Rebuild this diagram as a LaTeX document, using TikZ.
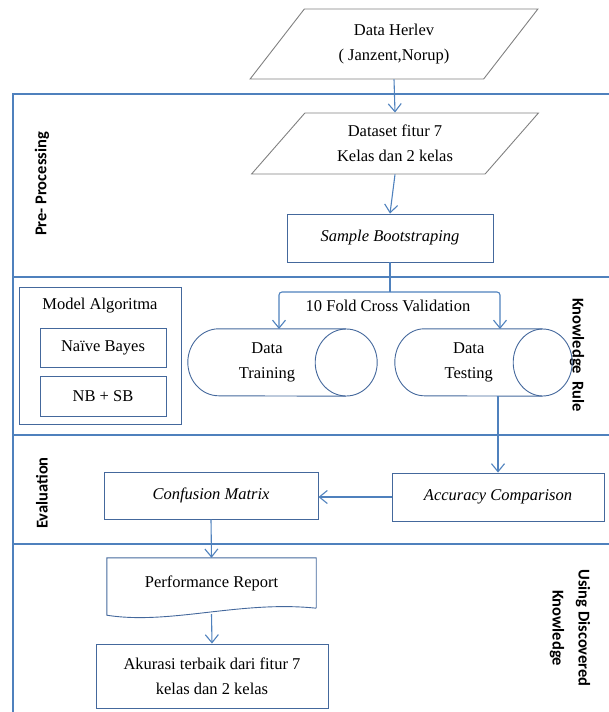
\documentclass[tikz,border=0pt]{standalone}
\usepackage{fontspec}
\setmainfont{Liberation Serif}
\newfontfamily\lanefont{Carlito}
\definecolor{LineBlue}{RGB}{79, 129, 189}
\definecolor{BoxBlue}{RGB}{68, 104, 156}
\definecolor{InkGray}{RGB}{128, 128, 128}
\usetikzlibrary{shapes.geometric, arrows.meta, positioning, calc}

\begin{document}
\begin{tikzpicture}[
            x=1pt, y=-1pt,
            box/.style={draw=BoxBlue, line width=0.9pt, fill=white, align=center, font=\fontsize{16.5}{25}\selectfont, inner sep=0pt},
            io/.style={trapezium, trapezium stretches=true, draw=InkGray, line width=0.9pt, align=center, font=\fontsize{16.5}{25}\selectfont, inner sep=0pt},
            drum/.style={align=center, font=\fontsize{16.5}{25}\selectfont, inner sep=0pt, minimum height=67},
            lane/.style={font=\lanefont\bfseries\fontsize{16.5}{26}\selectfont, align=center},
            frame/.style={draw=LineBlue, line width=1.1pt},
            flow/.style={draw=LineBlue, line width=1.1pt, -{Straight Barb[length=8pt,width=13pt]}}
        ]
        \useasboundingbox (0,0) rectangle (609,712);

        % The Lanes
        \draw[frame] (609,94) -- (13,94) -- (13,712);
        \draw[frame] (13,277) -- (609,277);
        \draw[frame] (13,435) -- (609,435);
        \draw[frame] (13,544) -- (609,544);

        \node[lane, rotate=90] (lpre) at (42,184) {Pre- Processing};
        \node[lane, rotate=-90] (lrule) at (577,355) {Knowledge \ Rule};
        \node[lane, rotate=90] (leval) at (42,493) {Evaluation};
        \node[lane, rotate=-90] (luse) at (570,628) {Using Discovered\\Knowledge};

        % Pre-processing
        \node[io, trapezium left angle=50, trapezium right angle=130, minimum width=288, minimum height=70] (herlev) at (394,44) {Data Herlev\\( Janzent,Norup)};
        \node[io, trapezium left angle=47, trapezium right angle=133, minimum width=287, minimum height=61] (dataset) at (395,143.5) {Dataset fitur 7\\Kelas dan 2 kelas};
        \node[box, minimum width=206, minimum height=48] (sample) at (390,238) {\itshape Sample Bootstraping};

        % Knowledge rule
        \node[box, minimum width=162, minimum height=137] (model) at (100,355.5) {};
        \node[font=\fontsize{16.5}{25}\selectfont] (modeltitle) at (100,306) {Model Algoritma};
        \node[box, minimum width=126, minimum height=39] (nb) at (103,347.5) {Naïve Bayes};
        \node[box, minimum width=126, minimum height=40] (nbsb) at (103,396) {NB + SB};

        \node[drum, minimum width=158] (training) at (267,362.5) {Data\\Training};
        \draw[draw=BoxBlue, line width=0.9pt] (training.north east) -- ($(training.north west)+(31,0)$)
            arc[start angle=270, end angle=90, x radius=31, y radius=33.5] -- (training.south east);
        \draw[draw=BoxBlue, line width=0.9pt] (training.east) ellipse[x radius=31, y radius=33.5];
        \node[drum, minimum width=147.5] (testing) at (468.75,362.5) {Data\\Testing};
        \draw[draw=BoxBlue, line width=0.9pt] (testing.north east) -- ($(testing.north west)+(29.5,0)$)
            arc[start angle=270, end angle=90, x radius=29.5, y radius=33.5] -- (testing.south east);
        \draw[draw=BoxBlue, line width=0.9pt] (testing.east) ellipse[x radius=29.5, y radius=33.5];
        \node[font=\fontsize{16.5}{25}\selectfont] (cv) at (388,306) {10 Fold Cross Validation};

        % Evaluation
        \node[box, minimum width=212, minimum height=48] (accuracy) at (498,497) {\itshape Accuracy Comparison};
        \node[box, minimum width=214, minimum height=47] (confusion) at (211,495.5) {\itshape Confusion Matrix};

        % Using discovered knowledge
        \node[minimum width=209, minimum height=50, inner sep=0pt, font=\fontsize{16.5}{25}\selectfont] (perf) at (211.5,583) {Performance Report};
        \draw[draw=BoxBlue, line width=0.9pt] (perf.south east) -- (perf.north east) -- (perf.north west) -- ($(perf.south west)+(0,7)$)
            .. controls ($(perf.south west)+(63,17)$) and ($(perf.south east)+(-76,-8)$) .. (perf.south east);
        \coordinate (perfwave) at (211.5,614);
        \node[box, minimum width=232, minimum height=64] (akurasi) at (212,676) {Akurasi terbaik dari fitur 7\\kelas dan 2 kelas};

        % Arrows
        \draw[flow] (herlev.south) -- (dataset.north);
        \draw[flow] (dataset.south) -- (sample.north);
        \coordinate (split) at (390,292);
        \draw[draw=LineBlue, line width=1.1pt] (sample.south) -- (split);
        \draw[flow, rounded corners=3pt] (split) -- (279,292) -- (279,329);
        \draw[flow, rounded corners=3pt] (split) -- (500,292) -- (500,329);
        \draw[flow] (accuracy.north |- testing.south) -- (accuracy.north);
        \draw[flow] (accuracy.west) -- (accuracy.west -| confusion.east);
        \draw[flow] (confusion.south) -- (perf.north);
        \draw[flow] (perfwave) -- (akurasi.north);

        \end{tikzpicture}
\end{document}
